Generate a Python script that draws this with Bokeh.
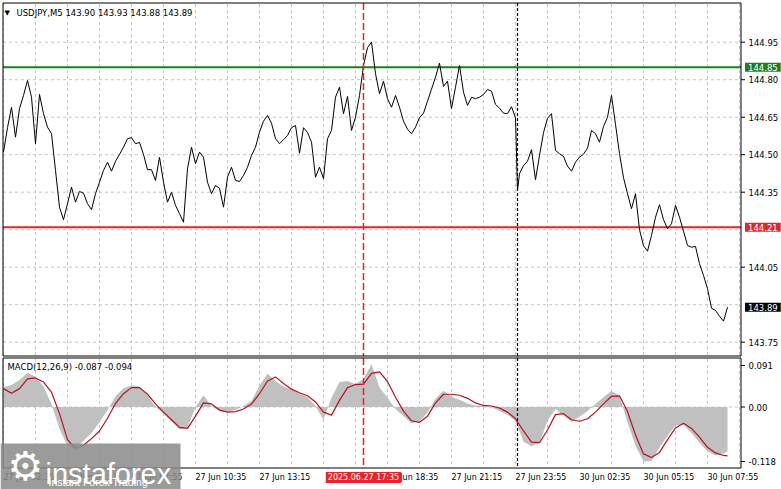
from bokeh.plotting import figure
from bokeh.models import Range1d, Label, BoxAnnotation
from bokeh.core.properties import value
from bokeh.embed import file_html
from bokeh.resources import INLINE

# ---------------- data (M5 bars, index 0 = 27 Jun 02:35) ----------------
price_bar = list(range(0, 257, 2)) + [257] + list(range(258, 363, 2))
price_close = [
    144.510, 144.608, 144.690, 144.570, 144.684, 144.737, 144.797, 144.730, 144.544, 144.741,
    144.664, 144.610, 144.584, 144.437, 144.290, 144.240, 144.304, 144.370, 144.310, 144.353,
    144.346, 144.304, 144.280, 144.344, 144.390, 144.437, 144.470, 144.434, 144.474, 144.501,
    144.530, 144.564, 144.568, 144.544, 144.549, 144.501, 144.440, 144.440, 144.397, 144.490,
    144.390, 144.310, 144.350, 144.297, 144.264, 144.230, 144.444, 144.530, 144.464, 144.510,
    144.490, 144.390, 144.344, 144.377, 144.366, 144.290, 144.410, 144.450, 144.397, 144.393,
    144.417, 144.450,
    144.497, 144.530, 144.590, 144.634, 144.657, 144.626, 144.564, 144.544, 144.560, 144.577,
    144.608, 144.617, 144.506, 144.608, 144.589, 144.550, 144.410, 144.450, 144.404, 144.564,
    144.597, 144.730, 144.770, 144.664, 144.733, 144.597, 144.650, 144.737, 144.857, 144.928,
    144.950, 144.824, 144.744, 144.794, 144.724, 144.690, 144.737, 144.690, 144.634, 144.602,
    144.584, 144.610, 144.648, 144.666, 144.714, 144.762, 144.810, 144.866, 144.773, 144.794,
    144.684, 144.770, 144.857, 144.750, 144.697, 144.730, 144.724, 144.730, 144.741, 144.761,
    144.754,
    144.701, 144.686, 144.666, 144.664, 144.692, 144.648,
    144.357,
    144.425, 144.456, 144.474, 144.520, 144.400, 144.497, 144.588, 144.646, 144.664, 144.517,
    144.504, 144.493, 144.454, 144.434, 144.470, 144.490, 144.502, 144.526, 144.597, 144.584,
    144.550, 144.613, 144.650, 144.737, 144.621, 144.504, 144.408, 144.344, 144.284, 144.344,
    144.200, 144.136, 144.114, 144.177, 144.250, 144.300, 144.240, 144.204, 144.224, 144.297,
    144.250, 144.194, 144.137, 144.130, 144.133, 144.064, 144.017, 143.964, 143.886, 143.877,
    143.854, 143.834, 143.890,
]

macd_bar = list(range(0, 361, 4)) + [362]
macd_hist = [
    0.039, 0.043, 0.053, 0.067, 0.060, 0.040, 0.006, -0.043, -0.076, -0.081,
    -0.066, -0.051, -0.030, -0.006, 0.021, 0.037, 0.042, 0.040, 0.022, 0.000,
    -0.013, -0.028, -0.044, -0.040, 0.000, 0.023, 0.002, -0.008, -0.010, -0.006,
    0.002, 0.012, 0.042, 0.065, 0.051, 0.040, 0.035, 0.027, 0.019, 0.002,
    -0.025, 0.018, 0.049, 0.051, 0.045, 0.055,
    0.084, 0.038, 0.018, -0.004, -0.018, -0.032, -0.028, -0.011, 0.016, 0.032,
    0.020, 0.014, 0.007, 0.003, 0.003, 0.000, -0.008, -0.015, -0.027, -0.068,
    -0.077, -0.070, -0.027, -0.004, -0.017, -0.029, -0.019, -0.008, 0.006, 0.019,
    0.032, 0.022, -0.030, -0.076, -0.107, -0.106, -0.079, -0.057, -0.036, -0.035,
    -0.051, -0.070, -0.087, -0.095, -0.091,
    -0.087,
]
macd_signal = [
    0.036, 0.027, 0.036, 0.055, 0.057, 0.049, 0.029, -0.013, -0.064, -0.081,
    -0.075, -0.062, -0.047, -0.022, 0.007, 0.026, 0.038, 0.038, 0.025, 0.006,
    -0.010, -0.025, -0.040, -0.042, -0.018, 0.008, 0.006, -0.006, -0.010, -0.009,
    -0.004, 0.006, 0.026, 0.051, 0.059, 0.046, 0.035, 0.028, 0.022, 0.010,
    -0.010, -0.016, 0.013, 0.038, 0.044, 0.045,
    0.066, 0.069, 0.050, 0.019, -0.008, -0.027, -0.030, -0.018, 0.008, 0.025,
    0.025, 0.023, 0.017, 0.008, 0.003, 0.002, -0.002, -0.010, -0.023, -0.047,
    -0.069, -0.070, -0.045, -0.015, -0.013, -0.025, -0.028, -0.023, -0.010, 0.006,
    0.021, 0.022, -0.009, -0.055, -0.092, -0.099, -0.089, -0.064, -0.041, -0.032,
    -0.042, -0.059, -0.079, -0.090, -0.095,
    -0.096,
]

price_ticks = [143.75, 143.90, 144.05, 144.20, 144.35, 144.50, 144.65, 144.80, 144.95]
price_tick_hidden = [143.90, 144.20]          # covered by the support / last-price boxes
time_tick_bar = [0, 32, 64, 96, 128, 192, 224, 256, 288, 320, 352]
time_tick_label = ["27 Jun 02:35", "27 Jun 05:15", "27 Jun 07:55", "27 Jun 10:35",
                   "27 Jun 13:15", "27 Jun 18:35", "27 Jun 21:15", "27 Jun 23:55",
                   "30 Jun 02:35", "30 Jun 05:15", "30 Jun 07:55"]
grid_bar = list(range(0, 369, 16))
macd_scale_label = ["0.091", "0.00", "-0.118"]

symbol_header = "USDJPY,M5  143.90 143.93 143.88 143.89"
macd_header = "MACD(12,26,9) -0.087 -0.094"
resistance = 144.85
support = 144.21
last_price = 143.89
cross_bar = 180
cross_label = "2025.06.27 17:35"
week_sep_bar = 257

assert len(price_bar) == len(price_close)
assert len(macd_bar) == len(macd_hist) == len(macd_signal)

# ---------------- page geometry (pixel -> data helpers) ----------------
W, H = 781, 489
FONT = "DejaVu Sans"
GRID = "#c4c4c4"
GREEN = "#1f7f1f"
RED = "#e4262c"


def bx(px):            # pixel x -> bar coordinate (2 px per bar)
    return px / 2.0 - 1.5


def py(px):            # pixel y -> price (main panel scale)
    return 144.95 - (px - 41.7) / 250.0


def my(px):            # pixel y -> MACD value (indicator panel scale)
    return (406.5 - px) / 510.0


P_L, P_R = 2.5, 740.5          # panel left / right borders
M_T, M_B = 2.5, 355.5          # main panel top / bottom
I_T, I_B = 357.5, 467.5        # indicator panel top / bottom

p = figure(width=W, height=H, x_range=Range1d(bx(0), bx(W)), y_range=Range1d(py(H), py(0)),
           output_backend="svg", toolbar_location=None,
           x_axis_location=None, y_axis_location=None, min_border=0)
p.extra_y_ranges = {"macd": Range1d(my(H), my(0))}
p.outline_line_color = None
p.background_fill_color = "white"
p.border_fill_color = "white"
p.grid.visible = False

# --- grids ---
n = len(grid_bar)
p.segment(x0=grid_bar, x1=grid_bar, y0=[py(M_T + 1)] * n, y1=[py(M_B - 1)] * n,
          line_color=GRID, line_dash="3 3", line_width=1)
p.segment(x0=grid_bar, x1=grid_bar, y0=[my(I_T + 1)] * n, y1=[my(I_B - 1)] * n,
          line_color=GRID, line_dash="3 3", line_width=1, y_range_name="macd")
m = len(price_ticks)
p.segment(x0=[bx(P_L)] * m, x1=[bx(P_R)] * m, y0=price_ticks, y1=price_ticks,
          line_color=GRID, line_dash="3 3", line_width=1)
p.segment(x0=[bx(P_L)], x1=[bx(P_R)], y0=[0.0], y1=[0.0],
          line_color=GRID, line_dash="3 3", line_width=1, y_range_name="macd")

# --- MACD indicator ---
p.varea(x=macd_bar, y1=0, y2=macd_hist, fill_color="#c0c0c0", y_range_name="macd")
p.line(macd_bar, macd_signal, line_color="#b5121f", line_width=1.2, y_range_name="macd")

# --- price line and levels ---
p.segment(x0=[bx(P_L), bx(P_L)], x1=[bx(P_R), bx(P_R)], y0=[resistance, support],
          y1=[resistance, support], line_color=[GREEN, RED], line_width=2)
p.line(price_bar, price_close, line_color="black", line_width=1)

# --- vertical crosshair and week separator ---
for b, col, dash, lw in [(cross_bar, "#e8202a", "7 3", 1.5), (week_sep_bar, "black", "3 2", 1.2)]:
    p.segment(x0=[b], x1=[b], y0=[py(M_T)], y1=[py(M_B)], line_color=col, line_dash=dash,
              line_width=lw)
    p.segment(x0=[b], x1=[b], y0=[my(I_T)], y1=[my(I_B)], line_color=col, line_dash=dash,
              line_width=lw, y_range_name="macd")

# --- panel frames ---
p.quad(left=[bx(P_L)], right=[bx(P_R)], top=[py(M_T)], bottom=[py(M_B)],
       fill_color=None, line_color="black", line_width=1)
p.quad(left=[bx(P_L)], right=[bx(P_R)], top=[my(I_T)], bottom=[my(I_B)],
       fill_color=None, line_color="black", line_width=1, y_range_name="macd")

# --- price scale (right) ---
shown = [t for t in price_ticks if t not in price_tick_hidden]
k = len(shown)
p.segment(x0=[bx(P_R)] * k, x1=[bx(P_R + 4)] * k, y0=shown, y1=shown, line_color="black")
p.text(x=[bx(748)] * k, y=shown, text=[f"{t:.2f}" for t in shown], text_font=value(FONT),
       text_font_size="8.5px", text_baseline="middle", text_align="left", text_color="black")

# --- MACD scale (right) ---
macd_scale_y = [my(365), 0.0, my(461)]
p.segment(x0=[bx(P_R)] * 3, x1=[bx(P_R + 4)] * 3, y0=macd_scale_y, y1=macd_scale_y,
          line_color="black", y_range_name="macd")
p.text(x=[bx(748)] * 3, y=macd_scale_y, text=macd_scale_label, text_font=value(FONT),
       text_font_size="8.5px", text_baseline="middle", text_align="left", text_color="black",
       y_range_name="macd")

# --- time scale (bottom) ---
tn = len(time_tick_bar)
p.text(x=time_tick_bar, y=[my(477)] * tn, text=time_tick_label, text_font=value(FONT),
       text_font_size="8px", text_baseline="middle", text_align="left", text_color="black",
       y_range_name="macd")

# --- headers ---
p.add_layout(Label(x=bx(4), y=py(12), text="\u25bc", text_font=FONT, text_font_size="7px",
                   text_baseline="middle", text_color="black"))
p.add_layout(Label(x=bx(16), y=py(12), text=symbol_header, text_font=FONT, text_font_size="8.5px",
                   text_baseline="middle", text_color="black"))
p.add_layout(Label(x=bx(7), y=my(366), text=macd_header, text_font=FONT, text_font_size="8.5px",
                   text_baseline="middle", text_color="black", y_range_name="macd"))

# --- value boxes on the price scale ---
for lvl, col in [(resistance, GREEN), (support, RED), (last_price, "black")]:
    p.add_layout(Label(x=bx(744.5), y=lvl, text=f"{lvl:.2f}", text_align="left",
                       text_baseline="middle", text_color="white", text_font=FONT,
                       text_font_size="8.5px", background_fill_color=col,
                       padding=dict(x=3, y=1)))

# --- crosshair time box ---
p.add_layout(Label(x=cross_bar, y=my(477), text=cross_label, text_align="center",
                   text_baseline="middle", text_color="white", text_font=FONT, text_font_size="8px",
                   background_fill_color=RED, padding=dict(x=2, y=1), y_range_name="macd"))

# --- watermark logo ---
p.add_layout(BoxAnnotation(left=bx(0), right=bx(180), top=my(443), bottom=my(489),
                           fill_color="#8a8a8a", fill_alpha=0.85, line_color=None,
                           y_range_name="macd"))
p.add_layout(Label(x=bx(25), y=my(465), text="\u2699", text_align="center",
                   text_baseline="middle", text_color="white", text_font=FONT,
                   text_font_size="40px", y_range_name="macd"))
p.add_layout(Label(x=bx(45), y=my(473), text="instaforex", text_align="left",
                   text_baseline="alphabetic", text_color="white", text_font="Liberation Sans",
                   text_font_size="29px", y_range_name="macd"))
p.add_layout(Label(x=bx(48), y=my(481), text="Instant Forex Trading", text_align="left",
                   text_baseline="middle", text_color="white", text_font="Liberation Sans",
                   text_font_size="10.5px", y_range_name="macd"))

open("out.html", "w").write(file_html(p, INLINE))
